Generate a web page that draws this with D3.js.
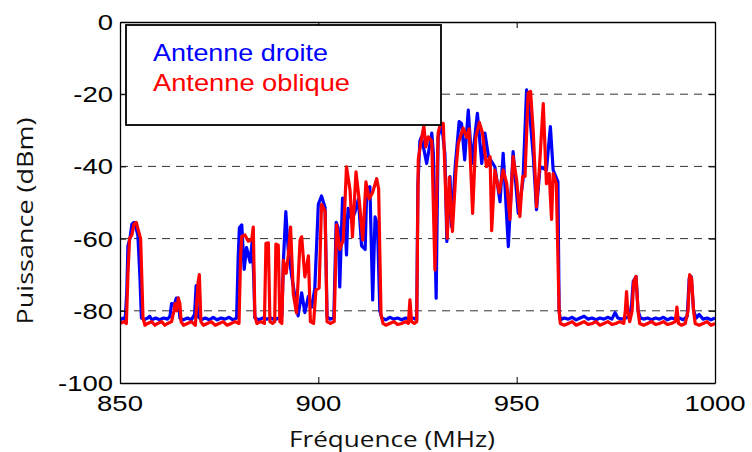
<!DOCTYPE html>
<html><head><meta charset="utf-8">
<script src="https://cdn.jsdelivr.net/npm/d3@7/dist/d3.min.js"></script>
<style>body{margin:0;background:#fff}svg{display:block}</style>
</head><body><svg id="c" width="752" height="452"></svg>
<script>
const xTicks = [850, 900, 950, 1000];
const yTicks = [0, -20, -40, -60, -80, -100];
const gridValues = [-20, -40, -60, -80];
const seriesNames = ["Antenne droite", "Antenne oblique"];
const seriesColors = ["#0000ff", "#ff0000"];

const freqDroite = [850,850.8,851.3,851.7,852.0,852.5,853.0,853.5,854.0,854.5,855.0,855.4,856,857,857.5,858,859,860,861,862,862.6,863.0,863.6,864.2,864.7,865.1,866,867,868,868.8,869.2,869.6,870.5,871.5,872.5,873.5,874.5,875.5,876.5,877.5,878.5,879.4,879.8,880.1,880.7,881.3,881.9,882.8,883.3,883.7,884,885,886,887,888,889,890,890.8,891.2,891.8,892.4,893.3,894.1,894.9,895.8,896.6,897.5,898.3,899.1,900,900.8,901.7,902.2,903,903.9,904.5,905,905.4,906.1,906.7,907.1,907.5,908.4,909.2,910.1,910.9,911.8,912.2,913,913.7,914.3,914.9,915.5,916,917,918,919,920,921,922,923,924,924.8,925.1,925.6,926,927.3,928.6,929,929.7,930.2,931.1,931.9,932.4,933.2,933.6,934.5,935.5,936.1,936.9,937.8,938.7,940.1,941.2,942,942.9,944.5,945.8,946.6,947.9,949.1,950.4,951.6,952.5,953.2,954.2,955,955.9,957.5,958.5,959.2,960.4,960.7,961,962,963,964,965,966,967,968,969,970,971,972,973,974,974.8,975.5,976.5,977.5,978.5,979,979.4,980.1,980.6,981.2,982,983,984,985,986,987,988,989,990,991,992,993,993.5,994,994.6,995.3,996,997,998,999,1000];
const droite = [-82.5,-82,-82.5,-75,-62,-60,-56,-55.5,-57,-59,-70,-82,-82.5,-82,-81.5,-82.5,-82,-82.5,-82,-82.3,-81.5,-78,-78.5,-76.5,-76.5,-82,-82.5,-82,-82.5,-81,-73,-81.5,-82.5,-82,-82.5,-81.8,-82.5,-82,-82.3,-81.8,-82.5,-82,-65,-57,-56.2,-68.5,-62.5,-66.5,-61,-70,-82,-82.5,-82,-82.3,-82,-82.5,-82,-81.5,-66,-52.5,-63,-70.5,-76,-81.4,-75,-80.5,-76,-79,-74,-50.5,-48.2,-51.4,-81.7,-82.3,-82,-55.5,-57,-73.4,-48.8,-54.3,-64.5,-51.6,-54.7,-52.8,-49.1,-62,-63,-46.6,-45.6,-77,-54,-56,-80,-82,-82.5,-81.8,-82.3,-82,-82.5,-82,-82.3,-82,-82.5,-45,-33,-31.8,-39.2,-30.8,-36.4,-76.5,-31.8,-28.5,-36.4,-60.8,-42.8,-56.7,-40.1,-27.6,-28.1,-38.2,-24.4,-39.2,-25.3,-39.2,-30.8,-37.3,-40.1,-49.8,-36.4,-62.2,-35.9,-53,-43.8,-18.8,-24.4,-37.3,-52,-40.1,-41,-29,-41,-44.2,-80,-82.5,-82,-82.3,-81.8,-82.5,-82,-81.5,-82.3,-82,-82.5,-82,-82.3,-81.8,-82.3,-80.5,-82,-82.3,-82,-81.5,-78,-71.8,-70.5,-80,-82,-82.3,-82,-82.5,-82,-82.3,-81.8,-82.5,-82,-82.3,-82,-82.5,-81.5,-71,-70.5,-80,-82,-81,-82.3,-82,-82.5,-82];

const freqOblique = [850,851,851.6,852.0,852.4,853.0,853.5,854.1,854.7,855.2,855.8,856.3,857,858,858.8,859.5,860.5,861.3,862,863,863.6,863.9,864.3,864.7,865.1,865.4,866,867,868,869,869.7,870.0,870.4,871,872,873,874,875,876,877,878,879,880,880.4,880.7,881.5,882.3,883.2,883.6,884,884.5,885.5,886.4,886.8,887.4,887.8,888.5,889,889.3,889.9,890.3,890.8,891.2,891.9,892.4,893,893.7,894.5,895.4,895.8,896.6,897.5,898,898.8,899.4,900.2,900.8,901.7,902.2,903,904,904.6,905.4,906.3,907.1,908,908.6,909.5,910.3,911.2,912,912.8,913.7,914.7,915.2,915.8,916.3,917,918,919,920,921,922,922.7,923.1,923.5,924.2,924.8,925.2,926,926.6,927.1,927.7,928.6,929.4,930.2,930.8,931.5,932.5,933,933.8,934.7,935.3,936.5,937.4,938,938.9,939.7,940.6,941.4,942.4,943.3,943.7,944.5,945.6,946.6,947.5,948.3,949.1,950,950.8,951.5,952.1,952.9,953.5,954.2,955,955.7,956.7,957.5,958.2,958.8,959.2,960,960.7,961,962,963,964,965,966,967,968,969,970,971,972,973,974,975,976,977,977.4,977.7,978,978.5,979.1,979.5,980.1,980.6,981,982,983,984,985,986,987,988,989,990,990.4,990.8,991.5,992.5,993.2,993.6,994.1,994.6,995,996,997,998,999,1000];
const oblique = [-83.5,-83,-83.5,-70,-60,-59,-56,-55.5,-58,-60,-82,-84,-83.5,-83,-84,-83.5,-83,-84,-83.5,-83,-80,-78,-80,-76.5,-78,-83,-84,-83.5,-83,-84,-72,-70,-83,-84,-83.5,-83,-84,-83.5,-83,-84,-83.5,-83,-83.5,-65,-59.4,-59,-60.7,-60.4,-56.8,-81.4,-83.5,-83,-83.5,-61.3,-61.2,-83,-83.5,-83,-61.5,-61.8,-83,-83.5,-66,-69.6,-64.8,-56.8,-75.4,-80.6,-60.4,-59.5,-70.6,-64.8,-83,-83.5,-74.2,-73.7,-50.5,-52.4,-83,-83.5,-83,-56.2,-63,-60.4,-40.1,-46.6,-59.5,-41.5,-49.3,-60.4,-44.3,-49,-47.2,-43.4,-46.2,-81,-83.5,-84,-83.5,-83,-83.8,-83.5,-83,-83.5,-77,-83,-83.5,-83,-38,-32.4,-28.8,-34.6,-31.8,-33,-68.7,-30.8,-28.1,-28.1,-59.9,-43,-58,-41,-33.5,-29.4,-32,-29.6,-53,-32,-27.8,-30.8,-40.1,-37.3,-57.8,-41,-47.3,-41,-44.8,-54.7,-37.3,-43.8,-53.9,-42.8,-42.8,-19.6,-19.2,-30.8,-51.2,-41,-22.6,-44.8,-42,-54.7,-42,-44.8,-80,-83.5,-84,-83.5,-83,-84,-83.5,-83,-83.8,-83.5,-83,-84,-83.5,-83,-83.8,-83.5,-83,-83.5,-80,-74.7,-80,-83,-80,-72,-70.5,-80,-83.5,-84,-83.5,-83,-83.8,-83.5,-83,-83.8,-83.5,-83,-79,-83.5,-84,-83.5,-80,-70,-71,-80,-83.5,-84,-83.5,-83,-84,-83.5];

const svg = d3.select("#c");
const L = 120, R = 715, T = 22, B = 383;
const x = d3.scaleLinear().domain([850, 1000]).range([L, R]);
const y = d3.scaleLinear().domain([-100, 0]).range([B, T]);

svg.append("defs").append("clipPath").attr("id", "clip")
  .append("rect").attr("x", L).attr("y", T).attr("width", R - L).attr("height", B - T);

// grid
svg.append("g").selectAll("line").data(gridValues).join("line")
  .attr("x1", L).attr("x2", R).attr("y1", d => y(d)).attr("y2", d => y(d))
  .attr("stroke", "#333").attr("stroke-width", 1).attr("stroke-dasharray", "8,6");

// series
const line = d3.line().x(d => x(d[0])).y(d => y(d[1]));
const series = [d3.zip(freqDroite, droite), d3.zip(freqOblique, oblique)];
const plot = svg.append("g").attr("clip-path", "url(#clip)");
series.forEach((s, i) => {
  plot.append("path").datum(s).attr("d", line)
    .attr("fill", "none").attr("stroke", seriesColors[i])
    .attr("stroke-width", 3.2).attr("stroke-linejoin", "round");
});

// axes (inward ticks, mirrored)
const tickLen = 6;
const axB = svg.append("g").attr("transform", `translate(0,${B})`)
  .call(d3.axisBottom(x).tickValues(xTicks).tickSizeInner(-tickLen).tickSizeOuter(0).tickFormat(""));
const axT = svg.append("g").attr("transform", `translate(0,${T})`)
  .call(d3.axisTop(x).tickValues(xTicks).tickSizeInner(-tickLen).tickSizeOuter(0).tickFormat(""));
const axL = svg.append("g").attr("transform", `translate(${L},0)`)
  .call(d3.axisLeft(y).tickValues(yTicks).tickSizeInner(-tickLen).tickSizeOuter(0).tickFormat(""));
const axR = svg.append("g").attr("transform", `translate(${R},0)`)
  .call(d3.axisRight(y).tickValues(yTicks).tickSizeInner(-tickLen).tickSizeOuter(0).tickFormat(""));
[axB, axT, axL, axR].forEach(a => {
  a.select(".domain").attr("stroke", "#000").attr("stroke-width", 1.3);
  a.selectAll(".tick line").attr("stroke", "#000").attr("stroke-width", 1);
});

// tick labels (horizontally stretched Arial-like)
const sx = 1.25;
svg.append("g").selectAll("text").data(xTicks).join("text")
  .attr("transform", d => `translate(${x(d)},411) scale(${sx},1)`)
  .attr("text-anchor", "middle").attr("font-family", "Liberation Sans, Arial, sans-serif")
  .attr("font-size", 22).attr("fill", "#000").text(d => d);
svg.append("g").selectAll("text").data(yTicks).join("text")
  .attr("transform", d => `translate(113,${y(d) + 8}) scale(${sx},1)`)
  .attr("text-anchor", "end").attr("font-family", "Liberation Sans, Arial, sans-serif")
  .attr("font-size", 22).attr("fill", "#000").text(d => d);

// axis titles
svg.append("text").attr("x", 392).attr("y", 447).attr("text-anchor", "middle")
  .attr("font-family", "Open Sans, Noto Sans, sans-serif").attr("font-size", 22)
  .attr("textLength", 206).attr("lengthAdjust", "spacingAndGlyphs")
  .attr("fill", "#111").text("Fréquence (MHz)");
svg.append("text").attr("transform", "translate(33,221) rotate(-90)").attr("text-anchor", "middle")
  .attr("font-family", "Open Sans, Noto Sans, sans-serif").attr("font-size", 22)
  .attr("textLength", 207).attr("lengthAdjust", "spacingAndGlyphs")
  .attr("fill", "#111").text("Puissance (dBm)");

// legend
svg.append("rect").attr("x", 126).attr("y", 25).attr("width", 315).attr("height", 100)
  .attr("fill", "#fff").attr("stroke", "#000").attr("stroke-width", 1.8);
const legY = [61, 91];
const legW = [175, 197];
svg.append("g").selectAll("text").data(seriesNames).join("text")
  .attr("x", 153).attr("y", (d, i) => legY[i])
  .attr("font-family", "Liberation Sans, Arial, sans-serif").attr("font-size", 24)
  .attr("textLength", (d, i) => legW[i]).attr("lengthAdjust", "spacingAndGlyphs")
  .attr("fill", (d, i) => seriesColors[i]).text(d => d);
</script></body></html>
